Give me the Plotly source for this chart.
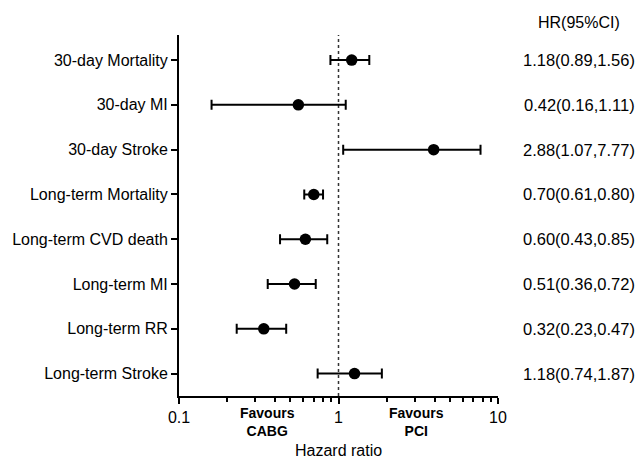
import plotly.graph_objects as go

outcomes = ["30-day Mortality", "30-day MI", "30-day Stroke", "Long-term Mortality",
            "Long-term CVD death", "Long-term MI", "Long-term RR", "Long-term Stroke"]
# point positions as drawn in the figure
hr_point = [1.21, 0.56, 3.95, 0.70, 0.62, 0.53, 0.34, 1.26]
ci_low = [0.89, 0.16, 1.07, 0.61, 0.43, 0.36, 0.23, 0.74]
ci_high = [1.56, 1.11, 7.77, 0.80, 0.85, 0.72, 0.47, 1.87]
hr_text = ["1.18(0.89,1.56)", "0.42(0.16,1.11)", "2.88(1.07,7.77)", "0.70(0.61,0.80)",
           "0.60(0.43,0.85)", "0.51(0.36,0.72)", "0.32(0.23,0.47)", "1.18(0.74,1.87)"]
x_ticks = [0.1, 1, 10]
x_tick_text = ["0.1", "1", "10"]
minor_ticks = [0.2, 0.3, 0.4, 0.5, 0.6, 0.7, 0.8, 0.9, 2, 3, 4, 5, 6, 7, 8, 9]

FONT = "Arial, 'Liberation Sans', sans-serif"
ypos = list(range(len(outcomes)))

fig = go.Figure()
fig.add_trace(go.Scatter(
    x=hr_point, y=ypos, mode="markers",
    marker=dict(color="black", size=11.5),
    error_x=dict(type="data", symmetric=False,
                 array=[h - p for h, p in zip(ci_high, hr_point)],
                 arrayminus=[p - l for p, l in zip(hr_point, ci_low)],
                 color="black", thickness=2, width=5),
    showlegend=False, hoverinfo="skip"))

fig.add_shape(type="line", xref="x", yref="paper", x0=1, x1=1, y0=0, y1=1,
              line=dict(color="#333333", width=1.5, dash="dot"), layer="below")

for i, t in enumerate(hr_text):
    fig.add_annotation(x=1.2547, xref="paper", y=ypos[i], yref="y", text=t,
                       showarrow=False, xanchor="center", yanchor="middle",
                       font=dict(family=FONT, size=16.5, color="black"))
fig.add_annotation(x=1.2547, xref="paper", y=1.036, yref="paper", text="HR(95%CI)",
                   showarrow=False, xanchor="center", yanchor="middle",
                   font=dict(family=FONT, size=16, color="black"))
fig.add_annotation(x=0.276, xref="paper", y=-0.072, yref="paper", text="<b>Favours<br>CABG</b>",
                   showarrow=False, xanchor="center", yanchor="middle",
                   font=dict(family=FONT, size=14, color="black"))
fig.add_annotation(x=0.745, xref="paper", y=-0.072, yref="paper", text="<b>Favours<br>PCI</b>",
                   showarrow=False, xanchor="center", yanchor="middle",
                   font=dict(family=FONT, size=14, color="black"))
fig.add_annotation(x=0.5, xref="paper", y=-0.1496, yref="paper", text="Hazard ratio",
                   showarrow=False, xanchor="center", yanchor="middle",
                   font=dict(family=FONT, size=16, color="black"))

fig.update_layout(
    width=640, height=458,
    margin=dict(l=176, r=142, t=35, b=62),
    paper_bgcolor="white", plot_bgcolor="white",
    font=dict(family=FONT, size=16, color="black"),
    xaxis=dict(type="log", range=[-1, 1], tickvals=x_ticks, ticktext=x_tick_text,
               ticks="outside", ticklen=6, tickwidth=2, tickcolor="black",
               showline=True, linecolor="black", linewidth=2, showgrid=False, zeroline=False,
               minor=dict(tickvals=minor_ticks, ticks="outside", ticklen=4, tickwidth=1.5,
                          tickcolor="black", showgrid=False),
               tickfont=dict(family=FONT, size=16, color="black")),
    yaxis=dict(range=[7.5, -0.56], tickvals=ypos, ticktext=outcomes,
               ticks="outside", ticklen=6, tickwidth=2, tickcolor="black",
               showline=True, linecolor="black", linewidth=2, showgrid=False, zeroline=False,
               tickfont=dict(family=FONT, size=16, color="black")),
)

fig.write_html("out.html", config={"displayModeBar": False},
               post_script="document.body.style.margin='0';document.body.style.overflow='hidden';")
